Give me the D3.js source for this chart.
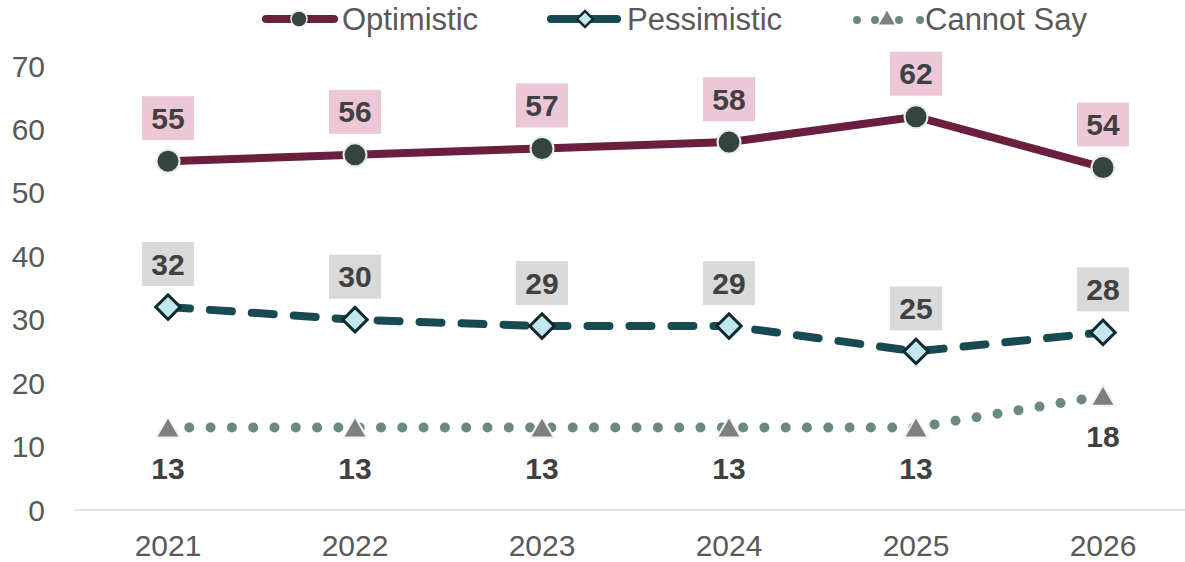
<!doctype html>
<html>
  <head>
    <script src="https://cdnjs.cloudflare.com/ajax/libs/d3/7.8.5/d3.min.js"></script>
    <style>
      body { margin: 0; background: #fff; }
      svg { font-family: Arial, "Liberation Sans", sans-serif; }
    </style>
  </head>
  <body>
    <svg id="chart" width="1185" height="562"></svg>
    <script>
      // data
      var years = ["2021", "2022", "2023", "2024", "2025", "2026"];
      var optimistic = [55, 56, 57, 58, 62, 54];
      var pessimistic = [32, 30, 29, 29, 25, 28];
      var cannotSay = [13, 13, 13, 13, 13, 18];
      var yTicks = [0, 10, 20, 30, 40, 50, 60, 70];
      var seriesNames = ["Optimistic", "Pessimistic", "Cannot Say"];

      var svg = d3.select("#chart");

      var x = d3.scalePoint().domain(years).range([74.5, 1196.5]).padding(0.5);
      var y = d3.scaleLinear().domain([0, 70]).range([510, 66]);

      /* y axis labels */
      svg.append("g").selectAll("text").data(yTicks).enter().append("text")
        .attr("x", 45).attr("y", d => y(d)).attr("dy", "0.35em")
        .attr("text-anchor", "end").attr("font-size", 30).attr("fill", "#595959")
        .text(d => d);

      /* baseline */
      svg.append("line").attr("x1", 75).attr("x2", 1185)
        .attr("y1", y(0)).attr("y2", y(0))
        .attr("stroke", "#d9d9d9").attr("stroke-width", 1.5);

      /* x axis labels */
      svg.append("g").selectAll("text").data(years).enter().append("text")
        .attr("x", d => x(d)).attr("y", 545).attr("dy", "0.35em")
        .attr("text-anchor", "middle").attr("font-size", 30).attr("fill", "#595959")
        .text(d => d);

      var line = d3.line().x((d, i) => x(years[i])).y(d => y(d));

      /* cannot say - dotted */
      svg.append("path").datum(cannotSay).attr("d", line)
        .attr("fill", "none").attr("stroke", "#6a8a80").attr("stroke-width", 10)
        .attr("stroke-linecap", "round").attr("stroke-dasharray", "0 21.3");

      /* pessimistic - dashed */
      svg.append("path").datum(pessimistic).attr("d", line)
        .attr("fill", "none").attr("stroke", "#174a52").attr("stroke-width", 8)
        .attr("stroke-linecap", "round").attr("stroke-dasharray", "22 20");

      /* optimistic - solid */
      svg.append("path").datum(optimistic).attr("d", line)
        .attr("fill", "none").attr("stroke", "#6a1f3e").attr("stroke-width", 8);

      var tri = d3.symbol().type(d3.symbolTriangle).size(250);
      var sq = d3.symbol().type(d3.symbolSquare).size(300);

      svg.append("g").selectAll("path").data(cannotSay).enter().append("path")
        .attr("d", tri)
        .attr("transform", (d, i) => "translate(" + x(years[i]) + "," + (y(d) + 3) + ")")
        .attr("fill", "#7f7f7f").attr("stroke", "#f2f2f2").attr("stroke-width", 2);

      svg.append("g").selectAll("path").data(pessimistic).enter().append("path")
        .attr("d", sq)
        .attr("transform", (d, i) => "translate(" + x(years[i]) + "," + y(d) + ") rotate(45)")
        .attr("fill", "#c2e7ee").attr("stroke", "#0f2a30").attr("stroke-width", 3);

      svg.append("g").selectAll("circle").data(optimistic).enter().append("circle")
        .attr("cx", (d, i) => x(years[i])).attr("cy", d => y(d)).attr("r", 11.5)
        .attr("fill", "#344540").attr("stroke", "#e6eeeb").attr("stroke-width", 2);

      /* value labels */
      function labels(data, dyOff, boxFill) {
        var g = svg.append("g").selectAll("g").data(data).enter().append("g")
          .attr("transform", (d, i) => "translate(" + x(years[i]) + "," + (y(d) + dyOff) + ")");
        if (boxFill) {
          g.append("rect").attr("x", -26).attr("y", -22).attr("width", 52).attr("height", 44)
            .attr("fill", boxFill);
        }
        g.append("text").attr("text-anchor", "middle").attr("dy", "0.35em")
          .attr("font-size", 30).attr("font-weight", "bold").attr("fill", "#404040")
          .text(d => d);
      }
      labels(optimistic, -43, "#ecc7d6");
      labels(pessimistic, -43, "#d9d9d9");
      labels(cannotSay, 41, null);

      /* legend */
      var leg = svg.append("g").attr("transform", "translate(0,19)");
      leg.append("line").attr("x1", 266).attr("x2", 334).attr("y1", 0).attr("y2", 0)
        .attr("stroke", "#6a1f3e").attr("stroke-width", 8).attr("stroke-linecap", "round");
      leg.append("circle").attr("cx", 299).attr("cy", 0).attr("r", 8)
        .attr("fill", "#344540").attr("stroke", "#e6eeeb").attr("stroke-width", 1.5);
      leg.append("text").attr("x", 342).attr("y", 0).attr("dy", "0.35em")
        .attr("font-size", 31).attr("fill", "#595959").text(seriesNames[0]);

      leg.append("line").attr("x1", 551).attr("x2", 617).attr("y1", 0).attr("y2", 0)
        .attr("stroke", "#174a52").attr("stroke-width", 8).attr("stroke-linecap", "round");
      leg.append("path").attr("d", d3.symbol().type(d3.symbolSquare).size(130))
        .attr("transform", "translate(585,0) rotate(45)")
        .attr("fill", "#c2e7ee").attr("stroke", "#0f2a30").attr("stroke-width", 2.5);
      leg.append("text").attr("x", 627).attr("y", 0).attr("dy", "0.35em")
        .attr("font-size", 31).attr("fill", "#595959").text(seriesNames[1]);

      [857, 875, 899, 920].forEach(function (cx) {
        leg.append("circle").attr("cx", cx).attr("cy", 1).attr("r", 4).attr("fill", "#6a8a80");
      });
      leg.append("path").attr("d", d3.symbol().type(d3.symbolTriangle).size(110))
        .attr("transform", "translate(887,1)")
        .attr("fill", "#7f7f7f");
      leg.append("text").attr("x", 925).attr("y", 0).attr("dy", "0.35em")
        .attr("font-size", 31).attr("fill", "#595959").text(seriesNames[2]);
    </script>
  </body>
</html>
